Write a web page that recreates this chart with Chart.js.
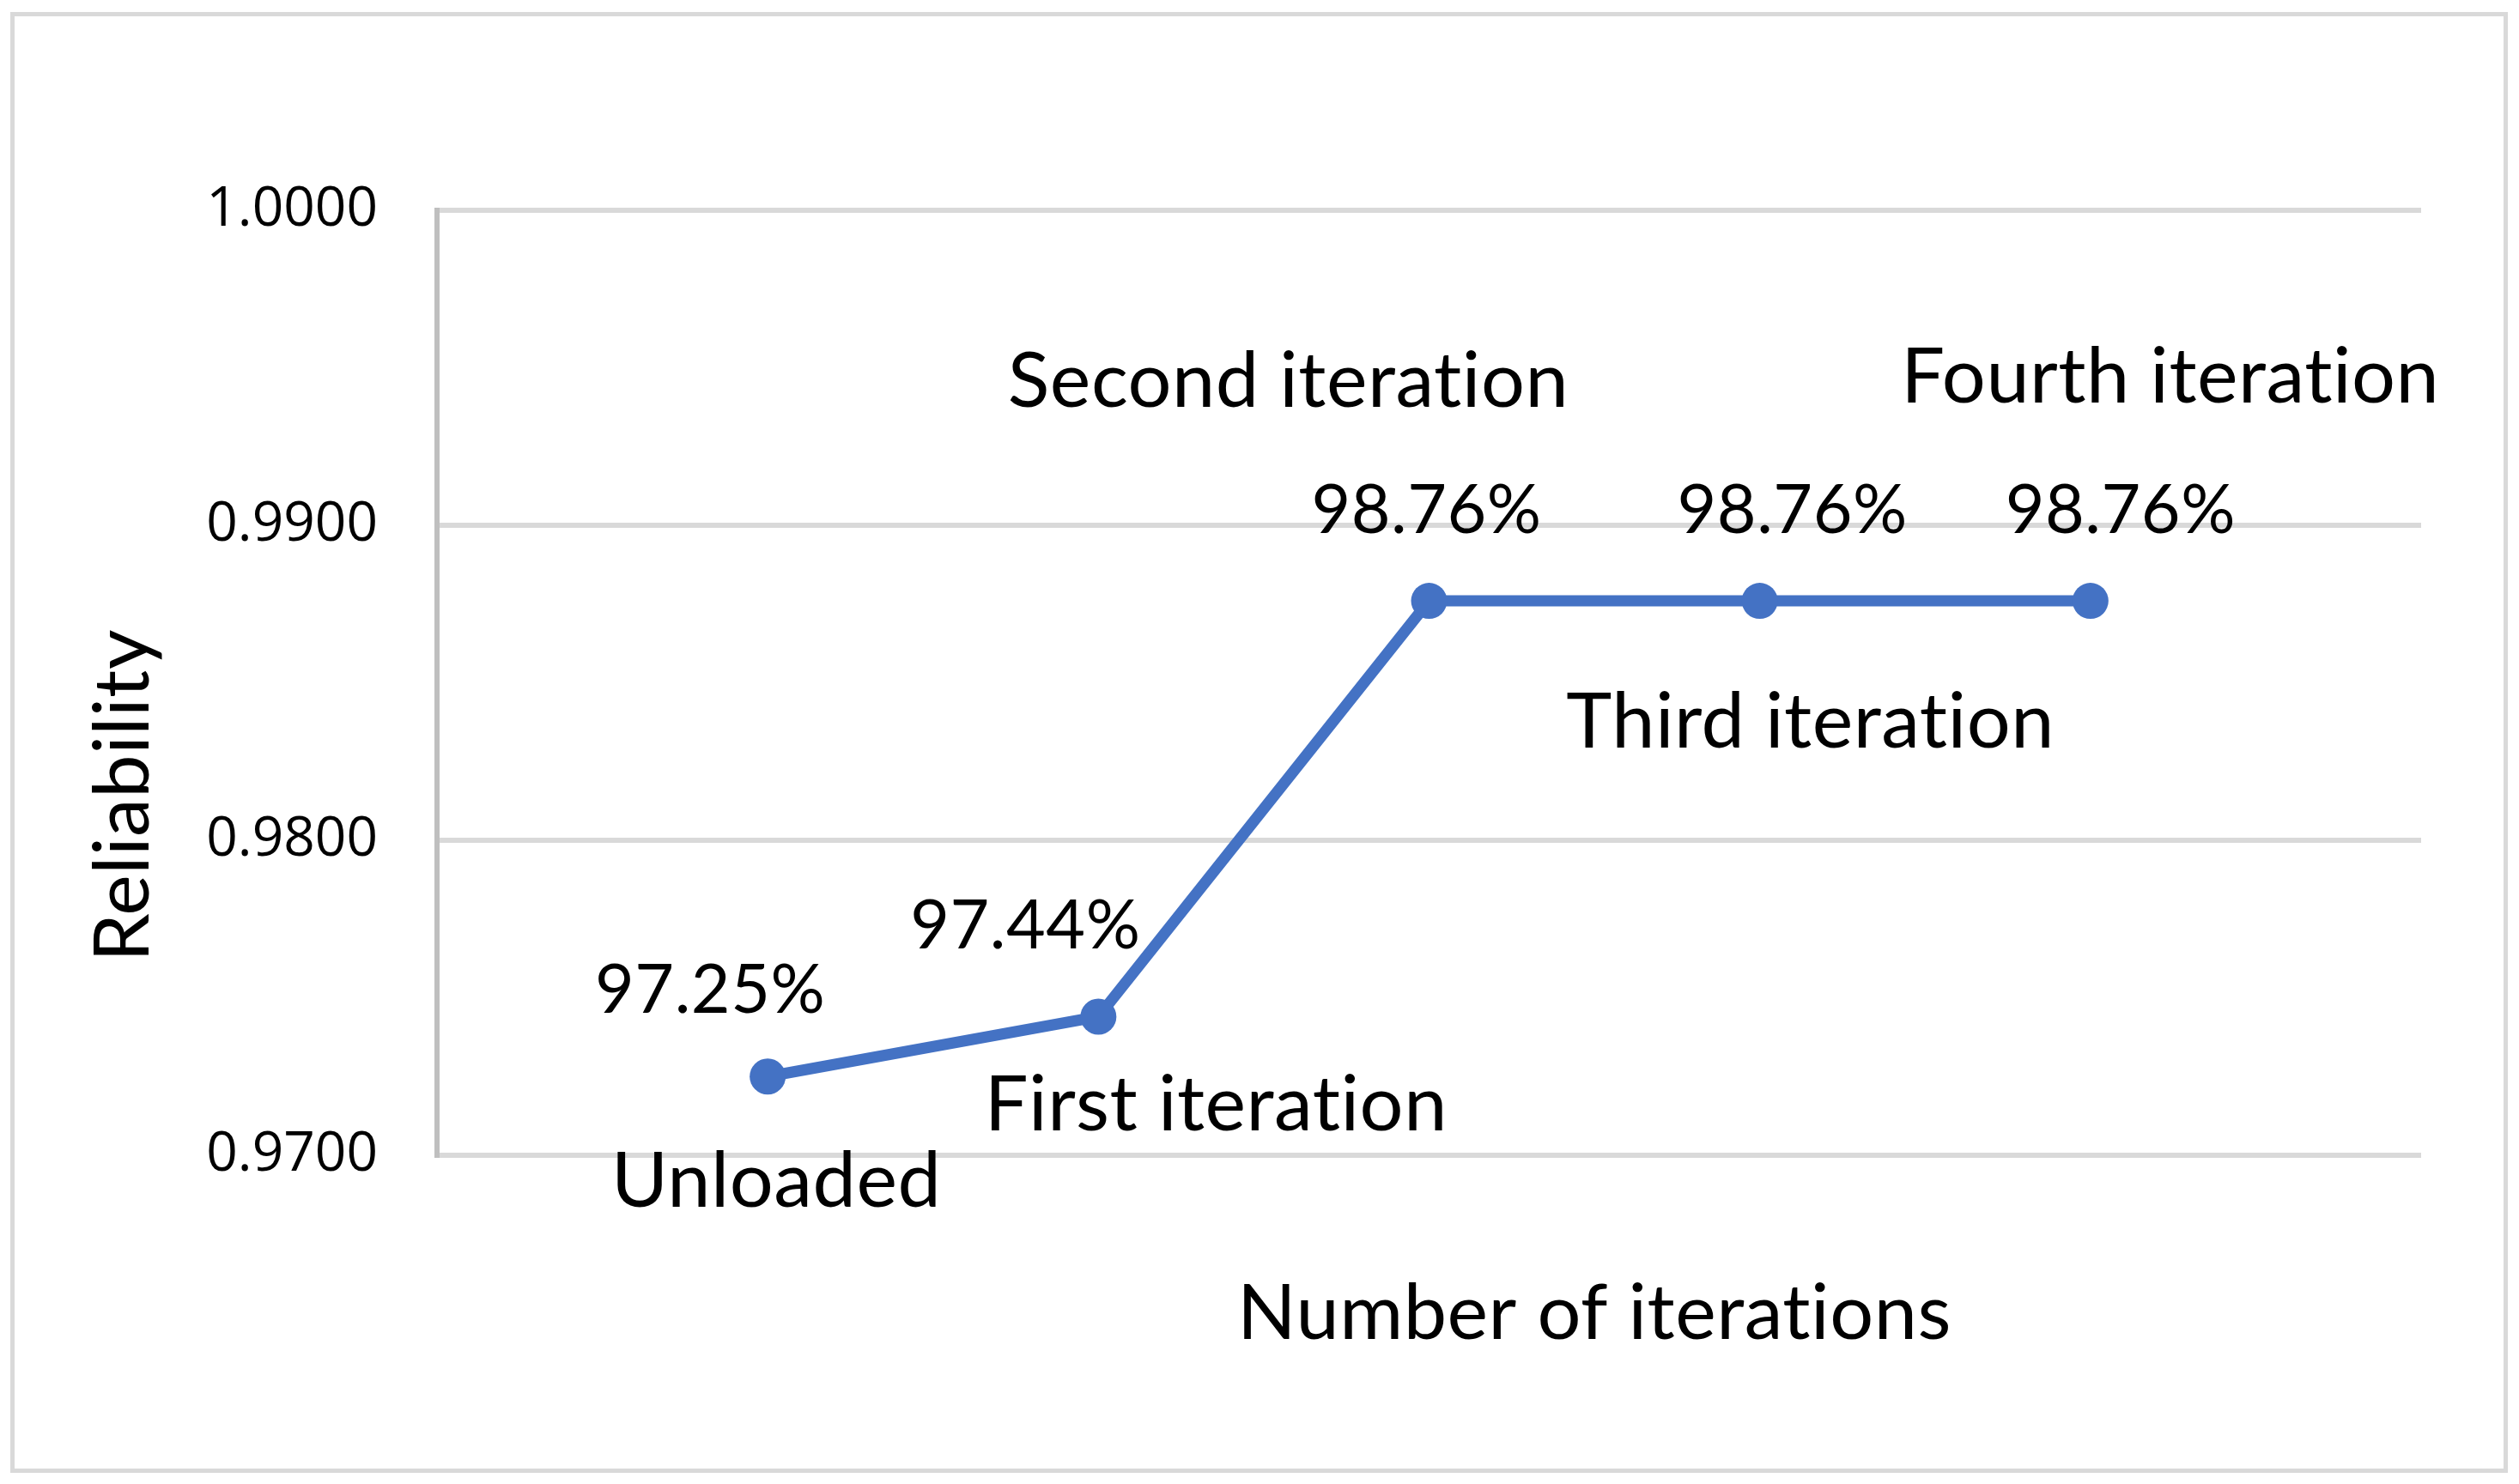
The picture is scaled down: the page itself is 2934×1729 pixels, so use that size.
<!DOCTYPE html>
<html>
<head>
<meta charset="utf-8">
<script src="https://cdn.jsdelivr.net/npm/chart.js@4.4.1/dist/chart.umd.min.js"></script>
<style>
  html, body { margin: 0; padding: 0; background: #fff; }
  #wrap { position: relative; width: 2934px; height: 1729px; }
  #frame {
    position: absolute; left: 12px; top: 14px; width: 2909px; height: 1702px;
    border: 5px solid #d9d9d9; box-sizing: border-box; pointer-events: none;
  }
  canvas { position: absolute; left: 0; top: 0; }
</style>
</head>
<body>
<div id="wrap">
  <canvas id="chart" width="2934" height="1729"></canvas>
  <div id="frame"></div>
</div>
<script>
// Chart data
const categories = ['Unloaded', 'First iteration', 'Second iteration', 'Third iteration', 'Fourth iteration'];
const positions = [1, 2, 3, 4, 5];
const reliability = [0.9725, 0.9744, 0.9876, 0.9876, 0.9876];
const yTicks = [0.97, 0.98, 0.99, 1.0];

// Label offsets from each point (px), as placed in the original
const valueOffsets = [[-67, -100], [-85, -105], [-3, -105], [38, -105], [35, -105]];
const nameOffsets = [[10, 123], [137, 103], [-164, -255], [59, 142], [93, -260]];

const blue = '#4472C4';

// Draws the value and category labels next to each point, plus axis titles
const labelPlugin = {
  id: 'pointLabels',
  afterDatasetsDraw(chart) {
    const ctx = chart.ctx;
    const meta = chart.getDatasetMeta(0);
    ctx.save();
    ctx.fillStyle = '#000';
    ctx.textAlign = 'center';
    ctx.textBaseline = 'middle';
    ctx.letterSpacing = '0.5px'; // no "ti" ligature
    meta.data.forEach((pt, i) => {
      ctx.font = '79px Lato';
      const v = (reliability[i] * 100).toFixed(2) + '%';
      ctx.fillText(v, pt.x + valueOffsets[i][0], pt.y + valueOffsets[i][1]);
      ctx.font = '90px Lato';
      ctx.fillText(categories[i], pt.x + nameOffsets[i][0], pt.y + nameOffsets[i][1]);
    });

    // axis titles
    ctx.font = '90px Lato';
    ctx.fillText('Number of iterations', 1857, 1531);
    ctx.translate(144, 927);
    ctx.rotate(-Math.PI / 2);
    ctx.fillText('Reliability', 0, 0);
    ctx.restore();
  }
};

new Chart(document.getElementById('chart'), {
  type: 'line',
  data: {
    datasets: [{
      data: positions.map((x, i) => ({ x: x, y: reliability[i] })),
      borderColor: blue,
      backgroundColor: blue,
      borderWidth: 13,
      pointRadius: 21,
      pointBorderWidth: 0,
      pointBackgroundColor: blue,
      tension: 0
    }]
  },
  options: {
    responsive: false,
    animation: false,
    devicePixelRatio: 1,
    layout: { padding: { left: 0, top: 245, right: 114, bottom: 0 } },
    plugins: {
      legend: { display: false },
      tooltip: { enabled: false }
    },
    scales: {
      x: {
        type: 'linear',
        min: 0,
        max: 6,
        ticks: { display: false },
        grid: { display: false },
        border: { display: false },
        afterFit(scale) { scale.height = 383; }
      },
      y: {
        min: 0.97,
        max: 1.0,
        afterBuildTicks(scale) { scale.ticks = yTicks.map(v => ({ value: v })); },
        ticks: {
          padding: 69,
          color: '#000',
          font: { family: 'Open Sans', size: 64 },
          callback: v => v.toFixed(4)
        },
        grid: { color: '#d9d9d9', lineWidth: 6, drawTicks: false },
        border: { display: true, color: '#bfbfbf', width: 6 },
        afterFit(scale) { scale.width = 509; }
      }
    }
  },
  plugins: [labelPlugin]
});
</script>
</body>
</html>
